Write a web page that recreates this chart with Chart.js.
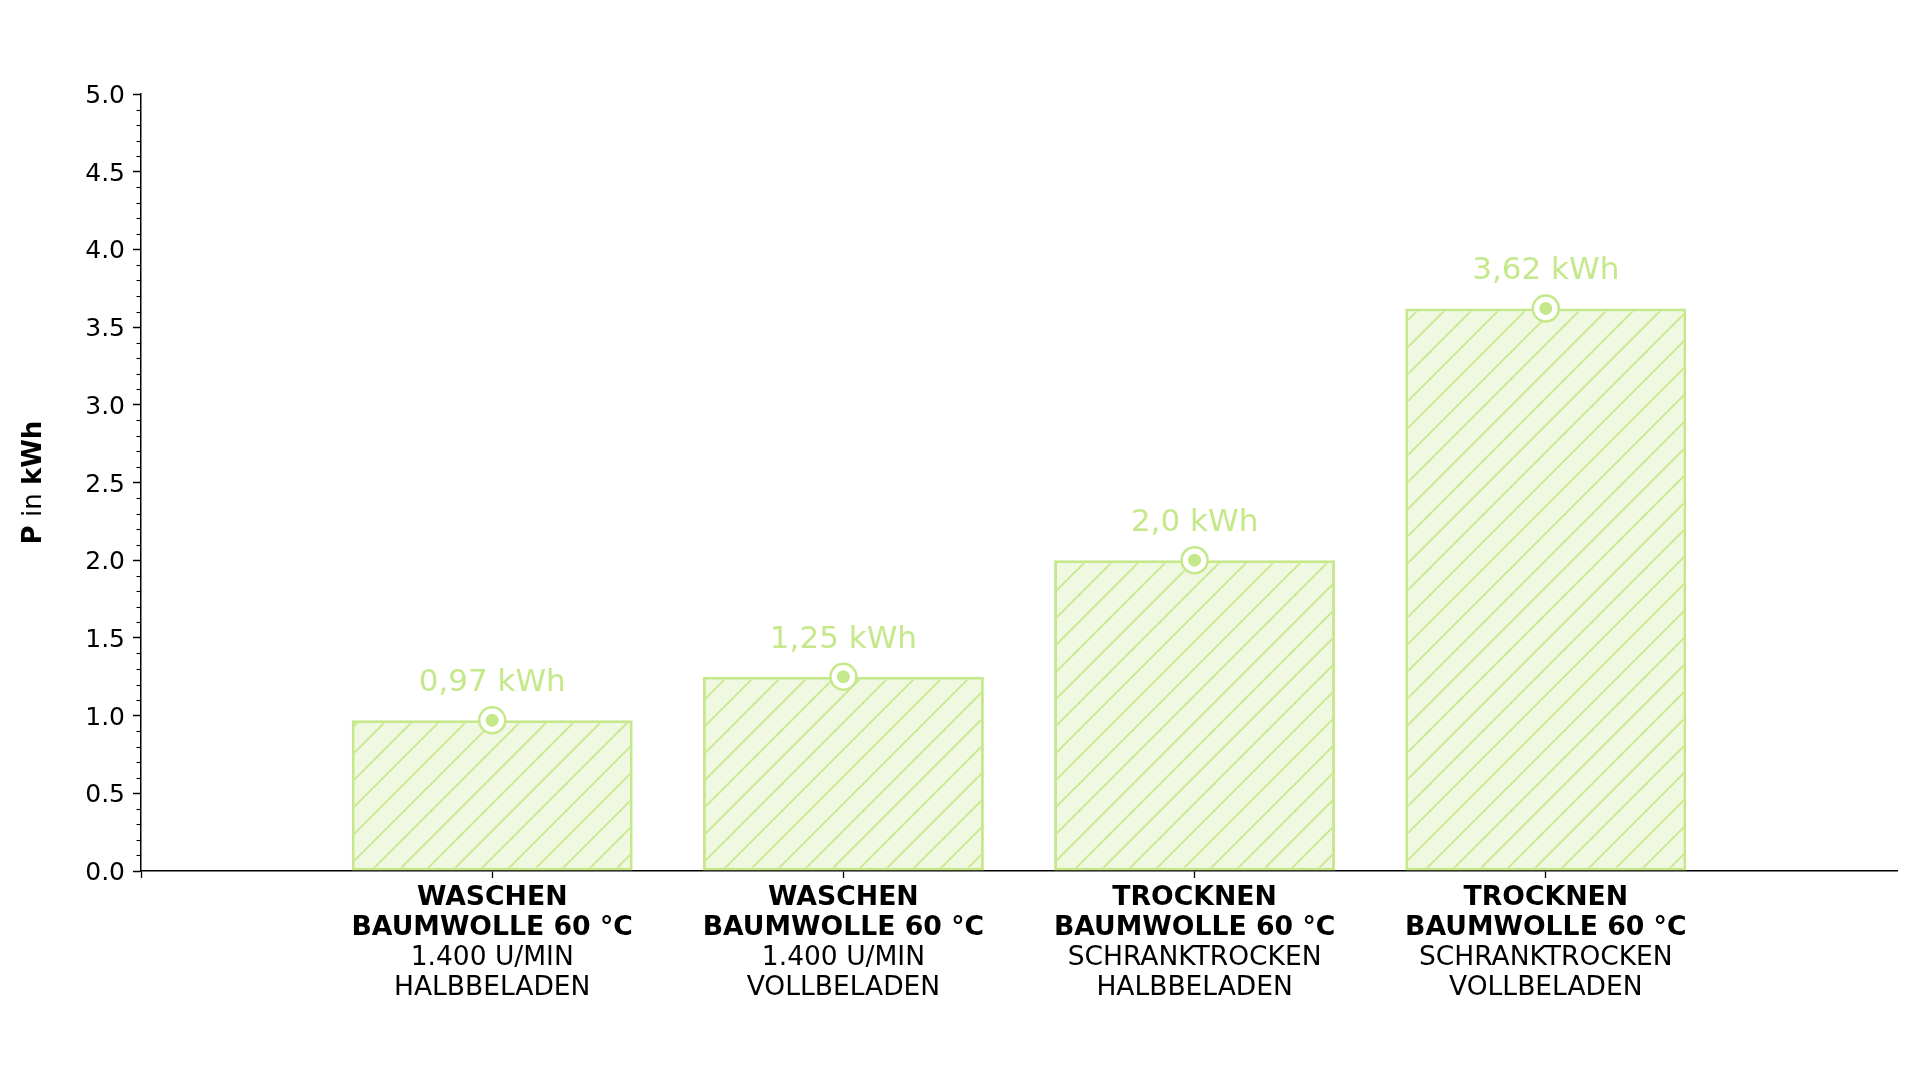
<!DOCTYPE html>
<html><head><meta charset="utf-8">
<script src="https://cdn.jsdelivr.net/npm/chart.js@4"></script>
<style>html,body{margin:0;padding:0;background:#fff;}canvas{display:block}</style>
</head><body>
<canvas id="c" width="1920" height="1081"></canvas>
<script>
// ---- DATA ----
const categoryTitles = [
  ['WASCHEN', 'BAUMWOLLE 60 °C'],
  ['WASCHEN', 'BAUMWOLLE 60 °C'],
  ['TROCKNEN', 'BAUMWOLLE 60 °C'],
  ['TROCKNEN', 'BAUMWOLLE 60 °C']
];
const categoryDetails = [
  ['1.400 U/MIN', 'HALBBELADEN'],
  ['1.400 U/MIN', 'VOLLBELADEN'],
  ['SCHRANKTROCKEN', 'HALBBELADEN'],
  ['SCHRANKTROCKEN', 'VOLLBELADEN']
];
const energyValues = [0.97, 1.25, 2.0, 3.62];
const valueLabels = ['0,97 kWh', '1,25 kWh', '2,0 kWh', '3,62 kWh'];
const yMin = 0, yMax = 5, yMajorStep = 0.5, yMinorStep = 0.1;
const yTitleParts = [['P', 'bold'], [' in ', 'normal'], ['kWh', 'bold']];

// ---- STYLE ----
const GREEN = '#c5e88a';
const FILL = '#f1f8e2';
const FONT = 'DejaVu Sans';
Chart.defaults.font.family = FONT;

// padded categories (empty slot at both ends of the axis)
const xLabels = [''].concat(categoryTitles, ['']);
const x2Labels = [''].concat(categoryDetails, ['']);
const barData = [null].concat(energyValues, [null]);
const lastIndex = xLabels.length - 1;

function makeHatch() {
  const s = 27;
  const t = document.createElement('canvas');
  t.width = s; t.height = s;
  const g = t.getContext('2d');
  g.fillStyle = FILL; g.fillRect(0, 0, s, s);
  g.strokeStyle = GREEN; g.lineWidth = 1.8;
  for (const k of [0, s, 2 * s]) {
    g.beginPath(); g.moveTo(k - s - 2, s + 2); g.lineTo(k + 2, -2); g.stroke();
  }
  return g.createPattern(t, 'repeat');
}

const extras = {
  id: 'extras',
  afterDraw(chart) {
    const ctx = chart.ctx;
    const y = chart.scales.y;
    // minor ticks
    ctx.save();
    ctx.strokeStyle = '#000'; ctx.lineWidth = 1.1;
    const n = Math.round((yMax - yMin) / yMinorStep);
    for (let i = 0; i <= n; i++) {
      if (i % Math.round(yMajorStep / yMinorStep) === 0) continue;
      const py = Math.round(y.getPixelForValue(yMin + i * yMinorStep)) + 0.5;
      ctx.beginPath(); ctx.moveTo(y.right - 4.5, py); ctx.lineTo(y.right, py); ctx.stroke();
    }
    // y title with mixed weights
    ctx.translate(34, (chart.chartArea.top + chart.chartArea.bottom) / 2);
    ctx.rotate(-Math.PI / 2);
    ctx.fillStyle = '#000'; ctx.textBaseline = 'middle'; ctx.textAlign = 'left';
    let total = 0;
    const widths = yTitleParts.map(([t, w]) => { ctx.font = w + ' 26px "' + FONT + '"'; const m = ctx.measureText(t).width; total += m; return m; });
    let x = -total / 2;
    yTitleParts.forEach(([t, w], i) => { ctx.font = w + ' 26px "' + FONT + '"'; ctx.fillText(t, x, 0); x += widths[i]; });
    ctx.restore();
  },
  afterDatasetsDraw(chart) {
    const ctx = chart.ctx;
    const meta = chart.getDatasetMeta(0);
    ctx.save();
    ctx.fillStyle = GREEN; ctx.font = '31px "' + FONT + '"';
    ctx.textAlign = 'center'; ctx.textBaseline = 'alphabetic';
    energyValues.forEach((v, i) => {
      const el = meta.data[i + 1];
      ctx.fillText(valueLabels[i], el.x, el.y - 29);
    });
    ctx.restore();
  }
};

new Chart(document.getElementById('c'), {
  type: 'bar',
  data: {
    labels: xLabels,
    datasets: [
      { type: 'bar', data: barData, xAxisID: 'x', backgroundColor: makeHatch(), borderColor: GREEN,
        borderWidth: 3, borderSkipped: false, categoryPercentage: 0.8, barPercentage: 1.0, order: 3 },
      { type: 'line', data: barData, xAxisID: 'x', showLine: false, pointRadius: 13,
        pointBackgroundColor: '#fff', pointBorderColor: GREEN, pointBorderWidth: 2.5, order: 2 },
      { type: 'line', data: barData, xAxisID: 'x', showLine: false, pointRadius: 6.5,
        pointBackgroundColor: GREEN, pointBorderColor: GREEN, pointBorderWidth: 0, order: 1 }
    ]
  },
  options: {
    responsive: false, devicePixelRatio: 1, animation: false, events: [],
    layout: { padding: { left: 0, top: 94, right: 23, bottom: 0 } },
    plugins: { legend: { display: false }, tooltip: { enabled: false } },
    scales: {
      x: {
        type: 'category', offset: false, weight: 0,
        grid: { display: true, offset: false, drawOnChartArea: false, drawTicks: true, tickLength: 7, tickWidth: 1.3,
          tickColor: c => c.index === lastIndex ? 'rgba(0,0,0,0)' : '#000' },
        border: { display: true, color: '#000', width: 1.5 },
        ticks: { font: { size: 26.7, weight: 'bold', lineHeight: 1.124 }, color: '#000', padding: 5, maxRotation: 0, autoSkip: false },
        afterFit: s => { s.height = 72; }
      },
      x2: {
        type: 'category', labels: x2Labels, position: 'bottom', offset: false, weight: 1,
        grid: { display: false, offset: false, drawTicks: false },
        border: { display: false },
        ticks: { font: { size: 26.5, lineHeight: 1.132 }, color: '#000', padding: 0, maxRotation: 0, autoSkip: false },
        afterFit: s => { s.height = 138; }
      },
      y: {
        min: yMin, max: yMax,
        ticks: { stepSize: yMajorStep, callback: v => ['', Number(v).toFixed(1)], font: { size: 25, lineHeight: 0.2 }, color: '#000', padding: 8 },
        grid: { drawOnChartArea: false, tickLength: 8, tickWidth: 1.5, tickColor: '#000' },
        border: { color: '#000', width: 1.5 },
        afterFit: s => { s.width = 141; }
      }
    }
  },
  plugins: [extras]
});
</script>
</body></html>
